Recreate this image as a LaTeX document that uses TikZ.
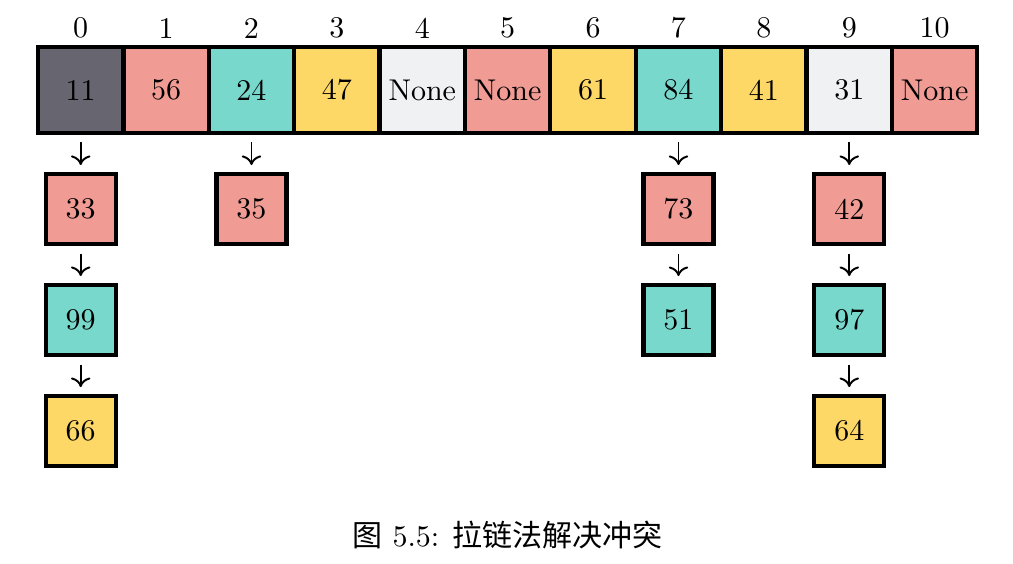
\documentclass[tikz,border=0pt]{standalone}
\usepackage{fontspec}
\newfontfamily\cjk{Noto Sans CJK SC}
\usepackage{tikz}
\usetikzlibrary{positioning,arrows.meta}
\usepackage{xcolor}

\definecolor{slotdark}{RGB}{102,101,112}
\definecolor{slotpink}{RGB}{240,155,148}
\definecolor{slotteal}{RGB}{121,216,204}
\definecolor{slotyellow}{RGB}{253,216,102}
\definecolor{slotgray}{RGB}{240,241,243}

\tikzset{
    slot/.style={draw, line width=1.4pt, minimum size=1cm, inner sep=0pt},
    chainbox/.style={draw, line width=1.4pt, minimum size=0.82cm, inner sep=0pt},
    index/.style={inner sep=0pt},
    link/.style={-{To[width=6.5pt,length=3.2pt]}, line width=0.65pt, shorten <=0.09cm, shorten >=0.08cm}
}

\begin{document}
\begin{tikzpicture}
    \useasboundingbox (-0.945,1.054) rectangle (10.917,-5.55);

    % hash table slots
    \node[slot, fill=slotdark] (s0) at (0,0) {11};
    \node[slot, fill=slotpink] (s1) at (1,0) {56};
    \node[slot, fill=slotteal] (s2) at (2,0) {24};
    \node[slot, fill=slotyellow] (s3) at (3,0) {47};
    \node[slot, fill=slotgray] (s4) at (4,0) {None};
    \node[slot, fill=slotpink] (s5) at (5,0) {None};
    \node[slot, fill=slotyellow] (s6) at (6,0) {61};
    \node[slot, fill=slotteal] (s7) at (7,0) {84};
    \node[slot, fill=slotyellow] (s8) at (8,0) {41};
    \node[slot, fill=slotgray] (s9) at (9,0) {31};
    \node[slot, fill=slotpink] (s10) at (10,0) {None};

    % indices
    \node[index] (i0) at (0,0.726) {0};
    \node[index] (i1) at (1,0.726) {1};
    \node[index] (i2) at (2,0.726) {2};
    \node[index] (i3) at (3,0.726) {3};
    \node[index] (i4) at (4,0.726) {4};
    \node[index] (i5) at (5,0.726) {5};
    \node[index] (i6) at (6,0.726) {6};
    \node[index] (i7) at (7,0.726) {7};
    \node[index] (i8) at (8,0.726) {8};
    \node[index] (i9) at (9,0.726) {9};
    \node[index] (i10) at (10,0.726) {10};

    % chains
    \node[chainbox, fill=slotpink] (c0a) at (0,-1.393) {33};
    \node[chainbox, fill=slotteal] (c0b) at (0,-2.693) {99};
    \node[chainbox, fill=slotyellow] (c0c) at (0,-3.993) {66};
    \node[chainbox, fill=slotpink] (c2a) at (2,-1.393) {35};
    \node[chainbox, fill=slotpink] (c7a) at (7,-1.393) {73};
    \node[chainbox, fill=slotteal] (c7b) at (7,-2.693) {51};
    \node[chainbox, fill=slotpink] (c9a) at (9,-1.393) {42};
    \node[chainbox, fill=slotteal] (c9b) at (9,-2.693) {97};
    \node[chainbox, fill=slotyellow] (c9c) at (9,-3.993) {64};

    \draw[link] (s0) -- (c0a);
    \draw[link] (c0a) -- (c0b);
    \draw[link] (c0b) -- (c0c);
    \draw[link] (s2) -- (c2a);
    \draw[link] (s7) -- (c7a);
    \draw[link] (c7a) -- (c7b);
    \draw[link] (s9) -- (c9a);
    \draw[link] (c9a) -- (c9b);
    \draw[link] (c9b) -- (c9c);

    \node (caption) at (5,-5.21) {{\cjk 图}~5.5: {\cjk 拉链法解决冲突}};
\end{tikzpicture}
\end{document}
